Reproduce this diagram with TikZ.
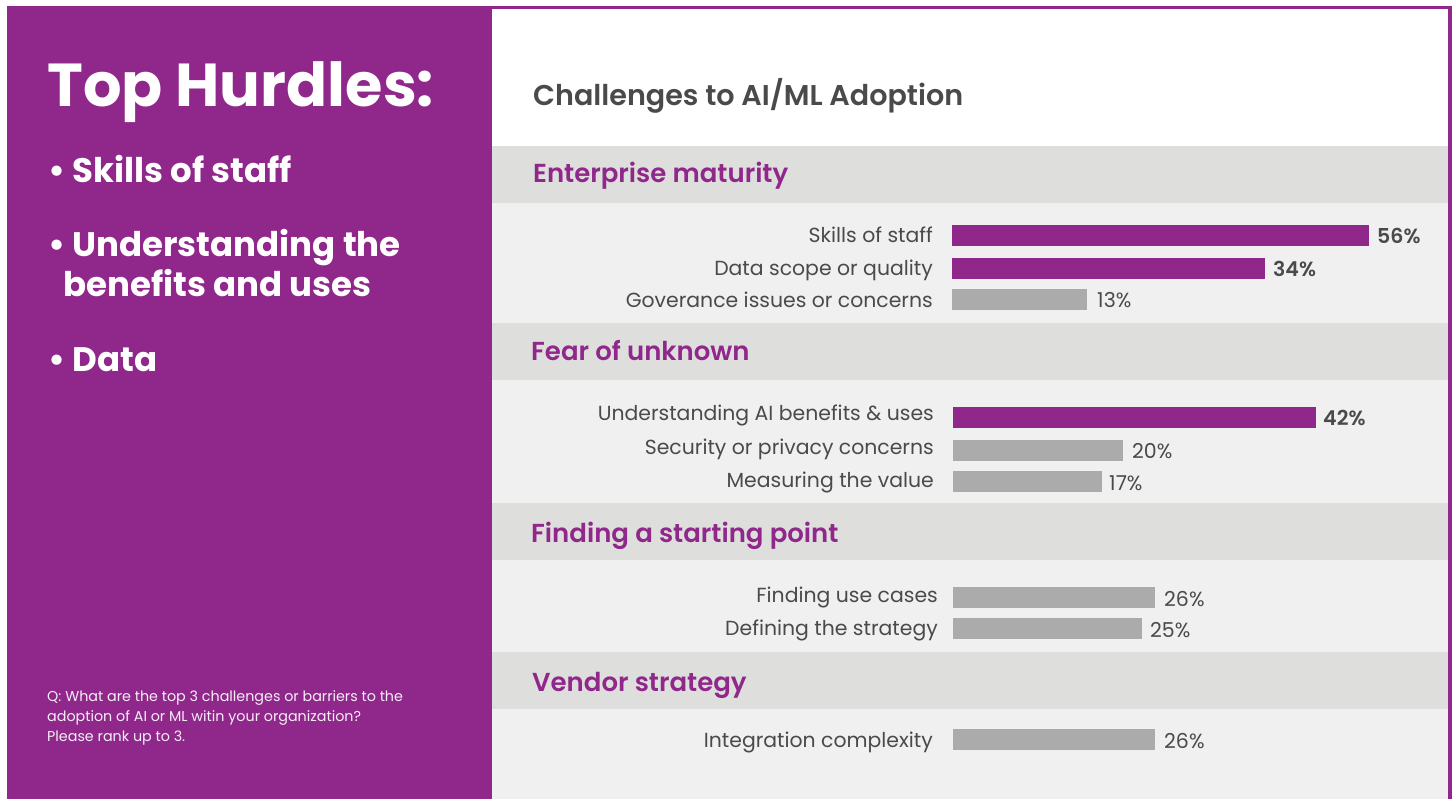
\documentclass[tikz,border=0pt]{standalone}
\usepackage{fontspec}
\setmainfont{Poppins}
\newfontfamily\sbfont{Poppins SemiBold}
\definecolor{purp}{HTML}{90278B}
\definecolor{band}{HTML}{DEDEDC}
\definecolor{lightbg}{HTML}{EFF0EF}
\definecolor{barg}{HTML}{ABABAB}
\definecolor{txt}{HTML}{4A4A4A}
\begin{document}
\begin{tikzpicture}[x=1pt,y=-1pt,
  lab/.style={anchor=base east, inner sep=0pt, font=\fontsize{20.4}{24}\selectfont, text=txt},
  pct/.style={anchor=base west, inner sep=0pt, font=\fontsize{20.5}{24}\selectfont, text=txt},
  pctb/.style={anchor=base west, inner sep=0pt, font=\fontsize{20.5}{24}\selectfont\sbfont, text=txt},
  hdr/.style={anchor=base west, inner sep=0pt, font=\fontsize{26}{30}\selectfont\sbfont, text=purp},
  bul/.style={anchor=base west, inner sep=0pt, font=\fontsize{34}{40}\selectfont\bfseries, text=white},
  barbox/.style={anchor=north west, inner sep=0pt, draw=none, minimum height=21pt},
  pbar/.style={barbox, fill=purp},
  gbar/.style={barbox, fill=barg},
]
\useasboundingbox (0,0) rectangle (1452,799);
\fill[white] (0,0) rectangle (1452,799);
% left panel
\fill[purp] (7,6) rectangle (492,799);
% right panel background
\fill[white] (492,9) rectangle (1448,146);
\fill[band] (492,146) rectangle (1448,203);
\fill[lightbg] (492,203) rectangle (1448,323);
\fill[band] (492,323) rectangle (1448,380);
\fill[lightbg] (492,380) rectangle (1448,503);
\fill[band] (492,503) rectangle (1448,560);
\fill[lightbg] (492,560) rectangle (1448,652);
\fill[band] (492,652) rectangle (1448,709);
\fill[lightbg] (492,709) rectangle (1448,799);
\fill[purp] (492,6) rectangle (1452,9);
\fill[purp] (1448,6) rectangle (1452,799);

% left texts
\node[anchor=base west, inner sep=0pt, font=\fontsize{60.6}{70}\selectfont\bfseries, text=white] (top) at (47,107) {Top Hurdles:};
\node[bul] (h1) at (48,183) {\textbullet\ Skills of staff};
\node[bul] (h2) at (48,257) {\textbullet\ Understanding the};
\node[bul] (h3) at (63,297) {benefits and uses};
\node[bul] (h4) at (48,372) {\textbullet\ Data};
\node[anchor=base west, inner sep=0pt, align=left, text=white!92!purp, font=\fontsize{14.3}{19.7}\selectfont] (q) at (47,741) {Q: What are the top 3 challenges or barriers to the\\adoption of AI or ML witin your organization?\\Please rank up to 3.};

% title
\node[anchor=base west, inner sep=0pt, font=\fontsize{28.6}{32}\selectfont\sbfont, text=txt] (title) at (533,106) {Challenges to AI/ML Adoption};

% section headers
\node[hdr] (s1) at (533,183) {Enterprise maturity};
\node[hdr] (s2) at (531,361) {Fear of unknown};
\node[hdr] (s3) at (531,542) {Finding a starting point};
\node[hdr] (s4) at (532,691) {Vendor strategy};

% Enterprise maturity
\node[lab] (l1) at (933,243) {Skills of staff};
\node[pbar, minimum width=417pt] (b1) at (952,225) {};
\node[pctb] (p1) at (1377,244) {56\%};
\node[lab] (l2) at (933,276) {Data scope or quality};
\node[pbar, minimum width=313pt] (b2) at (952,258) {};
\node[pctb] (p2) at (1273,277) {34\%};
\node[lab] (l3) at (933,308) {Goverance issues or concerns};
\node[gbar, minimum width=135pt] (b3) at (952,289) {};
\node[pct] (p3) at (1097,308) {13\%};

% Fear of unknown
\node[lab] (l4) at (934,421) {Understanding AI benefits \& uses};
\node[pbar, minimum width=363pt] (b4) at (953,407) {};
\node[pctb] (p4) at (1323,426) {42\%};
\node[lab] (l5) at (934,455) {Security or privacy concerns};
\node[gbar, minimum width=170pt] (b5) at (953,440) {};
\node[pct] (p5) at (1132,459) {20\%};
\node[lab] (l6) at (934,488) {Measuring the value};
\node[gbar, minimum width=149pt] (b6) at (953,471) {};
\node[pct] (p6) at (1109,490) {17\%};

% Finding a starting point
\node[lab] (l7) at (938,602) {Finding use cases};
\node[gbar, minimum width=202pt] (b7) at (953,587) {};
\node[pct] (p7) at (1164,606) {26\%};
\node[lab] (l8) at (938,635) {Defining the strategy};
\node[gbar, minimum width=189pt] (b8) at (953,618) {};
\node[pct] (p8) at (1150,637) {25\%};

% Vendor strategy
\node[lab] (l9) at (933,747) {Integration complexity};
\node[gbar, minimum width=202pt] (b9) at (953,729) {};
\node[pct] (p9) at (1164,748) {26\%};
\end{tikzpicture}
\end{document}
